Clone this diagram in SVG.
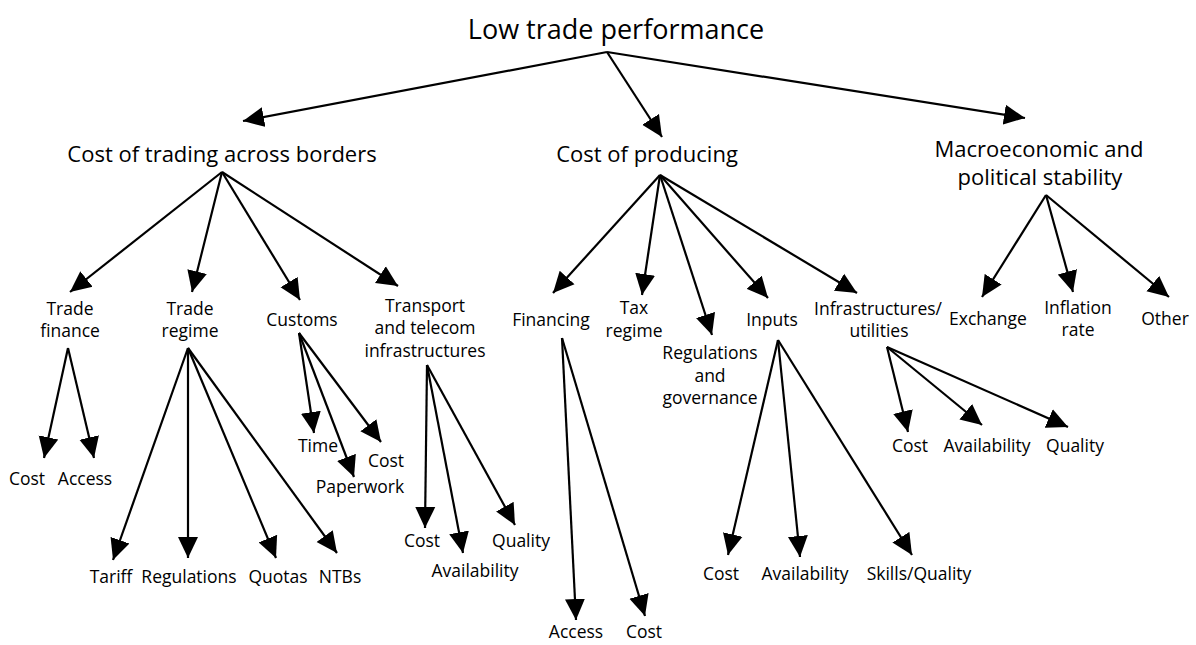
<svg xmlns="http://www.w3.org/2000/svg" width="1196" height="645" viewBox="0 0 1196 645">
<defs>
<marker id="ah" markerWidth="21" markerHeight="21" refX="21" refY="10.5" orient="auto" markerUnits="userSpaceOnUse" viewBox="0 0 21 21"><path d="M0,0.5 L21,10.5 L0,20.5 z" fill="#000"/></marker>
<style>
text{font-family:"Open Sans","Noto Sans","Liberation Sans",sans-serif;fill:#000;text-anchor:middle}
.t0{font-size:27px}
.t1{font-size:22px}
.t2{font-size:17.5px}
.c line{stroke:#000;stroke-width:2.2;marker-end:url(#ah)}
</style>
</defs>
<rect width="1196" height="645" fill="#fff"/>
<g class="c" id="connectors">
<line x1="607" y1="52" x2="243" y2="121"/>
<line x1="607" y1="52" x2="662" y2="137"/>
<line x1="607" y1="52" x2="1025" y2="118"/>
<line x1="222" y1="172" x2="70" y2="292"/>
<line x1="222" y1="172" x2="192" y2="292"/>
<line x1="222" y1="172" x2="300" y2="300"/>
<line x1="222" y1="172" x2="398" y2="286"/>
<line x1="660" y1="175" x2="553" y2="293"/>
<line x1="660" y1="175" x2="642" y2="295"/>
<line x1="660" y1="175" x2="712" y2="335"/>
<line x1="660" y1="175" x2="768" y2="298"/>
<line x1="660" y1="175" x2="857" y2="293"/>
<line x1="1046" y1="195" x2="982" y2="297"/>
<line x1="1046" y1="195" x2="1073" y2="292"/>
<line x1="1046" y1="195" x2="1169" y2="297"/>
<line x1="68" y1="348" x2="44" y2="458"/>
<line x1="68" y1="348" x2="94" y2="458"/>
<line x1="188" y1="348" x2="113" y2="560"/>
<line x1="188" y1="348" x2="188" y2="558"/>
<line x1="188" y1="348" x2="276" y2="558"/>
<line x1="188" y1="348" x2="337" y2="553"/>
<line x1="299" y1="333" x2="314" y2="433"/>
<line x1="299" y1="333" x2="354" y2="477"/>
<line x1="299" y1="333" x2="381" y2="442"/>
<line x1="427" y1="365" x2="425" y2="528"/>
<line x1="427" y1="365" x2="463" y2="553"/>
<line x1="427" y1="365" x2="515" y2="525"/>
<line x1="562" y1="338" x2="576" y2="620"/>
<line x1="562" y1="338" x2="645" y2="616"/>
<line x1="778" y1="340" x2="728" y2="555"/>
<line x1="778" y1="340" x2="800" y2="557"/>
<line x1="778" y1="340" x2="912" y2="555"/>
<line x1="887" y1="347" x2="908" y2="432"/>
<line x1="887" y1="347" x2="982" y2="425"/>
<line x1="887" y1="347" x2="1068" y2="427"/>
</g>
<g id="root"><text class="t0" x="616" y="39">Low trade performance</text></g>
<g id="cost-trading"><text class="t1" x="222" y="162">Cost of trading across borders</text></g>
<g id="cost-producing"><text class="t1" x="647" y="162">Cost of producing</text></g>
<g id="macro"><text class="t1" x="1039" y="157">Macroeconomic and</text><text class="t1" x="1040" y="185">political stability</text></g>
<g id="trade-finance"><text class="t2" x="70" y="315">Trade</text><text class="t2" x="70" y="337">finance</text></g>
<g id="trade-regime"><text class="t2" x="190" y="315">Trade</text><text class="t2" x="190" y="337">regime</text></g>
<g id="customs"><text class="t2" x="302" y="326">Customs</text></g>
<g id="transport"><text class="t2" x="425" y="312">Transport</text><text class="t2" x="425" y="334">and telecom</text><text class="t2" x="425" y="357">infrastructures</text></g>
<g id="financing"><text class="t2" x="551" y="326">Financing</text></g>
<g id="tax-regime"><text class="t2" x="634" y="314">Tax</text><text class="t2" x="634" y="337">regime</text></g>
<g id="regulations-gov"><text class="t2" x="710" y="359">Regulations</text><text class="t2" x="710" y="382">and</text><text class="t2" x="710" y="404">governance</text></g>
<g id="inputs"><text class="t2" x="772" y="326">Inputs</text></g>
<g id="infra-util"><text class="t2" x="878" y="315">Infrastructures/</text><text class="t2" x="879" y="337">utilities</text></g>
<g id="exchange"><text class="t2" x="988" y="325">Exchange</text></g>
<g id="inflation"><text class="t2" x="1078" y="314">Inflation</text><text class="t2" x="1078" y="336">rate</text></g>
<g id="other"><text class="t2" x="1165" y="325">Other</text></g>
<g id="tf-cost"><text class="t2" x="27" y="485">Cost</text></g>
<g id="tf-access"><text class="t2" x="85" y="485">Access</text></g>
<g id="tr-tariff"><text class="t2" x="111" y="583">Tariff</text></g>
<g id="tr-regulations"><text class="t2" x="189" y="583">Regulations</text></g>
<g id="tr-quotas"><text class="t2" x="278" y="583">Quotas</text></g>
<g id="tr-ntbs"><text class="t2" x="340" y="583">NTBs</text></g>
<g id="cu-time"><text class="t2" x="318" y="452">Time</text></g>
<g id="cu-cost"><text class="t2" x="386" y="467">Cost</text></g>
<g id="cu-paperwork"><text class="t2" x="360" y="493">Paperwork</text></g>
<g id="tt-cost"><text class="t2" x="422" y="547">Cost</text></g>
<g id="tt-availability"><text class="t2" x="475" y="577">Availability</text></g>
<g id="tt-quality"><text class="t2" x="521" y="547">Quality</text></g>
<g id="fi-access"><text class="t2" x="576" y="638">Access</text></g>
<g id="fi-cost"><text class="t2" x="644" y="638">Cost</text></g>
<g id="in-cost"><text class="t2" x="721" y="580">Cost</text></g>
<g id="in-availability"><text class="t2" x="805" y="580">Availability</text></g>
<g id="in-skills"><text class="t2" x="919" y="580">Skills/Quality</text></g>
<g id="iu-cost"><text class="t2" x="910" y="452">Cost</text></g>
<g id="iu-availability"><text class="t2" x="987" y="452">Availability</text></g>
<g id="iu-quality"><text class="t2" x="1075" y="452">Quality</text></g>
</svg>
